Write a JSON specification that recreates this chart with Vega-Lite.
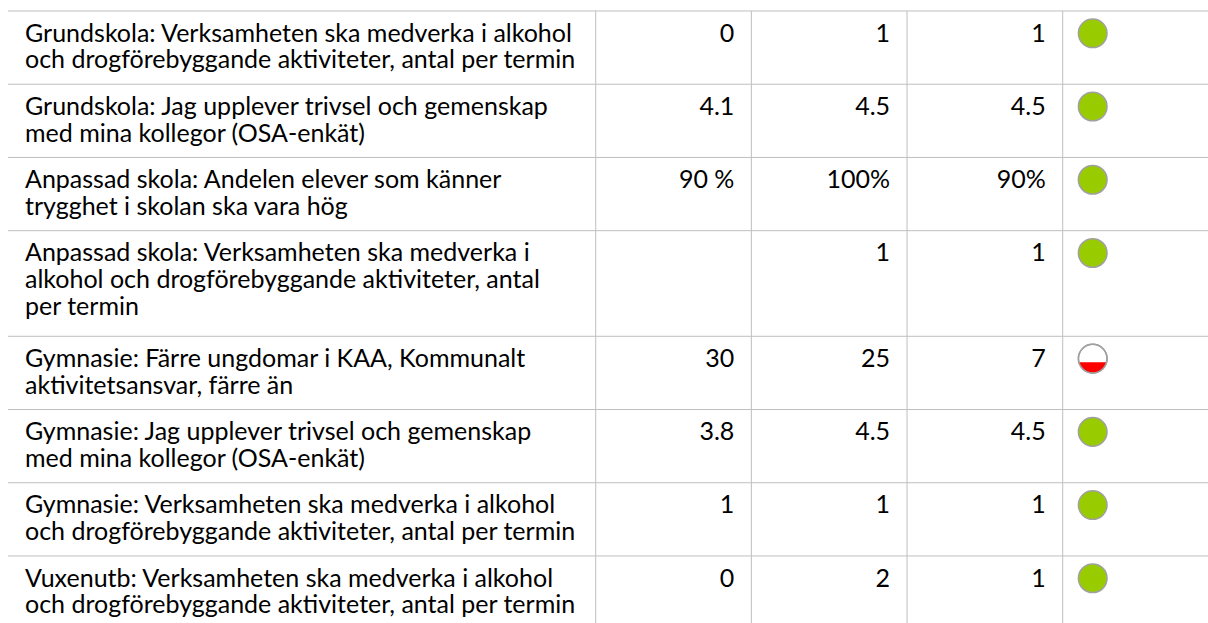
{
  "$schema": "https://vega.github.io/schema/vega-lite/v6.json",
  "width": 1208,
  "height": 623,
  "padding": 0,
  "autosize": {"type": "none"},
  "background": "#ffffff",
  "config": {"view": {"stroke": null}},
  "data": {
    "values": [
      {"id": 1, "ind": "Grundskola: Verksamheten ska medverka i alkohol\noch drogförebyggande aktiviteter, antal per termin", "v1": "0", "v2": "1", "v3": "1", "status": "green"},
      {"id": 2, "ind": "Grundskola: Jag upplever trivsel och gemenskap\nmed mina kollegor (OSA-enkät)", "v1": "4.1", "v2": "4.5", "v3": "4.5", "status": "green"},
      {"id": 3, "ind": "Anpassad skola: Andelen elever som känner\ntrygghet i skolan ska vara hög", "v1": "90 %", "v2": "100%", "v3": "90%", "status": "green"},
      {"id": 4, "ind": "Anpassad skola: Verksamheten ska medverka i\nalkohol och drogförebyggande aktiviteter, antal\nper termin", "v1": "", "v2": "1", "v3": "1", "status": "green"},
      {"id": 5, "ind": "Gymnasie: Färre ungdomar i KAA, Kommunalt\naktivitetsansvar, färre än", "v1": "30", "v2": "25", "v3": "7", "status": "red"},
      {"id": 6, "ind": "Gymnasie: Jag upplever trivsel och gemenskap\nmed mina kollegor (OSA-enkät)", "v1": "3.8", "v2": "4.5", "v3": "4.5", "status": "green"},
      {"id": 7, "ind": "Gymnasie: Verksamheten ska medverka i alkohol\noch drogförebyggande aktiviteter, antal per termin", "v1": "1", "v2": "1", "v3": "1", "status": "green"},
      {"id": 8, "ind": "Vuxenutb: Verksamheten ska medverka i alkohol\noch drogförebyggande aktiviteter, antal per termin", "v1": "0", "v2": "2", "v3": "1", "status": "green"}
    ]
  },
  "transform": [
    {"calculate": "length(split(datum.ind, '\\n')) + 0.26", "as": "h"},
    {"window": [{"op": "sum", "field": "h", "as": "end"}], "sort": [{"field": "id"}], "frame": [null, 0]},
    {"calculate": "datum.end - datum.h", "as": "top"}
  ],
  "layer": [
    {
      "mark": {"type": "rule", "color": "#bfbfbf", "strokeWidth": 1, "clip": true},
      "encoding": {
        "y": {"field": "top", "type": "quantitative", "scale": {"domain": [-0.3395, 18.889], "reverse": true, "nice": false, "zero": false}, "axis": null},
        "x": {"datum": -3.7753, "type": "quantitative", "scale": {"domain": [-3.8267, 3.9333], "nice": false, "zero": false}, "axis": null},
        "x2": {"datum": 3.9333}
      }
    },
    {
      "transform": [
        {"fold": ["v1", "v2", "v3", "status"], "as": ["key", "val"]},
        {"calculate": "indexof(['v1','v2','v3','status'], datum.key)", "as": "colLeft"}
      ],
      "mark": {"type": "rule", "color": "#bfbfbf", "strokeWidth": 1, "clip": true},
      "encoding": {
        "x": {"field": "colLeft", "type": "quantitative", "scale": {"domain": [-3.8267, 3.9333], "nice": false, "zero": false}, "axis": null},
        "y": {"field": "top", "type": "quantitative", "scale": {"domain": [-0.3395, 18.889], "reverse": true, "nice": false, "zero": false}, "axis": null},
        "y2": {"field": "end"}
      }
    },
    {
      "mark": {"type": "text", "align": "left", "baseline": "alphabetic", "dx": 17, "dy": 30.7, "font": "Lato", "fontSize": 25, "lineHeight": 26.6, "lineBreak": "\n", "color": "#000000", "clip": true},
      "encoding": {
        "x": {"datum": -3.7753, "type": "quantitative", "scale": {"domain": [-3.8267, 3.9333], "nice": false, "zero": false}, "axis": null},
        "y": {"field": "top", "type": "quantitative", "scale": {"domain": [-0.3395, 18.889], "reverse": true, "nice": false, "zero": false}, "axis": null},
        "text": {"field": "ind"}
      }
    },
    {
      "transform": [
        {"fold": ["v1", "v2", "v3"], "as": ["key", "val"]},
        {"calculate": "indexof(['v1','v2','v3'], datum.key) + 1", "as": "colRight"}
      ],
      "mark": {"type": "text", "align": "right", "baseline": "alphabetic", "dx": -17, "dy": 30.7, "font": "Lato", "fontSize": 25, "color": "#000000", "clip": true},
      "encoding": {
        "x": {"field": "colRight", "type": "quantitative", "scale": {"domain": [-3.8267, 3.9333], "nice": false, "zero": false}, "axis": null},
        "y": {"field": "top", "type": "quantitative", "scale": {"domain": [-0.3395, 18.889], "reverse": true, "nice": false, "zero": false}, "axis": null},
        "text": {"field": "val"}
      }
    },
    {
      "mark": {"type": "point", "shape": "circle", "filled": true, "opacity": 1, "size": 820, "stroke": "#a0a0a0", "strokeWidth": 1.5, "xOffset": 30, "yOffset": 22.3, "clip": true},
      "encoding": {
        "x": {"datum": 3, "type": "quantitative", "scale": {"domain": [-3.8267, 3.9333], "nice": false, "zero": false}, "axis": null},
        "y": {"field": "top", "type": "quantitative", "scale": {"domain": [-0.3395, 18.889], "reverse": true, "nice": false, "zero": false}, "axis": null},
        "fill": {"field": "status", "type": "nominal", "scale": {"domain": ["green", "red"], "range": ["#99cc00", "#ffffff"]}, "legend": null}
      }
    },
    {
      "transform": [{"filter": "datum.status == 'red'"}],
      "mark": {"type": "point", "shape": "M-0.968,0.25A1,1,0,0,0,0.968,0.25Z", "filled": true, "opacity": 1, "size": 820, "fill": "#ff0000", "strokeWidth": 0, "xOffset": 30, "yOffset": 22.3, "clip": true},
      "encoding": {
        "x": {"datum": 3, "type": "quantitative", "scale": {"domain": [-3.8267, 3.9333], "nice": false, "zero": false}, "axis": null},
        "y": {"field": "top", "type": "quantitative", "scale": {"domain": [-0.3395, 18.889], "reverse": true, "nice": false, "zero": false}, "axis": null}
      }
    },
    {
      "transform": [{"filter": "datum.status == 'red'"}],
      "mark": {"type": "point", "shape": "circle", "filled": false, "opacity": 1, "size": 820, "color": "#a0a0a0", "strokeWidth": 1.5, "xOffset": 30, "yOffset": 22.3, "clip": true},
      "encoding": {
        "x": {"datum": 3, "type": "quantitative", "scale": {"domain": [-3.8267, 3.9333], "nice": false, "zero": false}, "axis": null},
        "y": {"field": "top", "type": "quantitative", "scale": {"domain": [-0.3395, 18.889], "reverse": true, "nice": false, "zero": false}, "axis": null}
      }
    }
  ]
}
